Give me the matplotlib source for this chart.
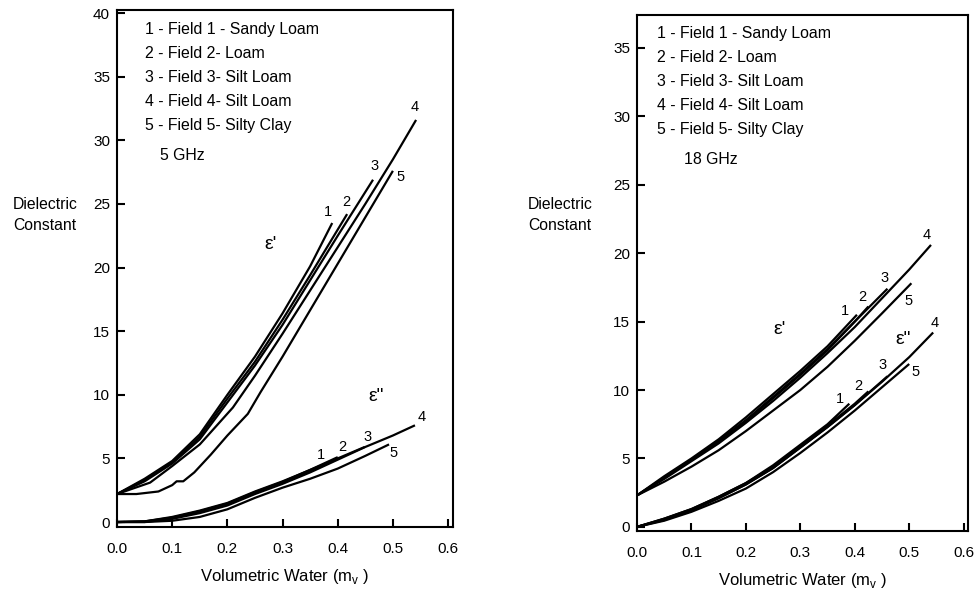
import matplotlib
matplotlib.use("Agg")
import matplotlib.pyplot as plt

plt.rcParams['font.family'] = ['Liberation Sans', 'DejaVu Sans']
plt.rcParams['mathtext.fontset'] = 'custom'
plt.rcParams['mathtext.rm'] = 'Liberation Sans'

# legend lines (same for both frequencies)
soils = ["1 - Field 1 - Sandy Loam", "2 - Field 2- Loam", "3 - Field 3- Silt Loam",
         "4 - Field 4- Silt Loam", "5 - Field 5- Silty Clay"]
curve_ids = ["1", "2", "3", "4", "5"]

# ---- 5 GHz, real part e'
e5r_x1 = [0.0, 0.05, 0.10, 0.15, 0.20, 0.25, 0.30, 0.35, 0.39]
e5r_y1 = [2.2, 3.4, 4.8, 6.9, 10.0, 13.0, 16.4, 20.1, 23.5]
e5r_x2 = [0.0, 0.05, 0.10, 0.15, 0.20, 0.25, 0.30, 0.35, 0.417]
e5r_y2 = [2.2, 3.3, 4.7, 6.7, 9.7, 12.6, 15.9, 19.4, 24.2]
e5r_x3 = [0.0, 0.05, 0.10, 0.15, 0.20, 0.25, 0.30, 0.35, 0.40, 0.464]
e5r_y3 = [2.2, 3.2, 4.6, 6.5, 9.4, 12.3, 15.5, 19.0, 22.5, 26.9]
e5r_x4 = [0.0, 0.06, 0.10, 0.15, 0.21, 0.25, 0.30, 0.35, 0.40, 0.45, 0.50, 0.542]
e5r_y4 = [2.2, 3.1, 4.4, 6.1, 9.0, 11.5, 14.8, 18.2, 21.6, 25.0, 28.5, 31.6]
e5r_x5 = [0.0, 0.035, 0.075, 0.10, 0.108, 0.12, 0.14, 0.17, 0.20, 0.237, 0.26, 0.30, 0.326, 0.40, 0.50]
e5r_y5 = [2.2, 2.2, 2.4, 2.9, 3.2, 3.2, 3.9, 5.3, 6.8, 8.5, 10.2, 13.0, 14.9, 20.3, 27.6]

# ---- 5 GHz, imaginary part e''
e5i_x1 = [0.0, 0.05, 0.10, 0.15, 0.20, 0.25, 0.30, 0.373]
e5i_y1 = [0.0, 0.05, 0.4, 0.9, 1.5, 2.4, 3.2, 4.5]
e5i_x2 = [0.0, 0.05, 0.10, 0.15, 0.20, 0.25, 0.30, 0.35, 0.40]
e5i_y2 = [0.0, 0.05, 0.35, 0.85, 1.45, 2.35, 3.15, 4.1, 5.1]
e5i_x3 = [0.0, 0.05, 0.10, 0.15, 0.20, 0.25, 0.30, 0.35, 0.40, 0.449]
e5i_y3 = [0.0, 0.03, 0.3, 0.8, 1.4, 2.3, 3.1, 4.0, 5.0, 5.9]
e5i_x4 = [0.0, 0.05, 0.10, 0.15, 0.20, 0.25, 0.30, 0.35, 0.40, 0.45, 0.50, 0.54]
e5i_y4 = [0.0, 0.0, 0.25, 0.7, 1.3, 2.2, 3.0, 3.9, 4.9, 5.9, 6.8, 7.6]
e5i_x5 = [0.0, 0.05, 0.10, 0.15, 0.20, 0.25, 0.30, 0.35, 0.40, 0.45, 0.493]
e5i_y5 = [0.0, 0.0, 0.1, 0.4, 1.0, 1.9, 2.7, 3.4, 4.2, 5.2, 6.1]

# ---- 18 GHz, real part e'
e18r_x1 = [0.0, 0.05, 0.10, 0.15, 0.20, 0.25, 0.30, 0.35, 0.404]
e18r_y1 = [2.3, 3.7, 5.0, 6.4, 8.0, 9.7, 11.4, 13.2, 15.5]
e18r_x2 = [0.0, 0.05, 0.10, 0.15, 0.20, 0.25, 0.30, 0.35, 0.40, 0.425]
e18r_y2 = [2.3, 3.6, 4.9, 6.3, 7.8, 9.5, 11.2, 13.0, 15.0, 16.1]
e18r_x3 = [0.0, 0.05, 0.10, 0.15, 0.20, 0.25, 0.30, 0.35, 0.40, 0.46]
e18r_y3 = [2.3, 3.6, 4.9, 6.2, 7.7, 9.4, 11.1, 12.9, 15.0, 17.4]
e18r_x4 = [0.0, 0.05, 0.10, 0.15, 0.20, 0.25, 0.30, 0.35, 0.40, 0.45, 0.50, 0.54]
e18r_y4 = [2.3, 3.5, 4.8, 6.1, 7.6, 9.2, 10.9, 12.7, 14.6, 16.7, 18.8, 20.6]
e18r_x5 = [0.0, 0.05, 0.10, 0.15, 0.20, 0.25, 0.30, 0.35, 0.40, 0.45, 0.504]
e18r_y5 = [2.3, 3.3, 4.4, 5.6, 7.0, 8.5, 10.0, 11.7, 13.6, 15.6, 17.8]

# ---- 18 GHz, imaginary part e''
e18i_x1 = [0.0, 0.05, 0.10, 0.15, 0.20, 0.25, 0.30, 0.35, 0.39]
e18i_y1 = [0.0, 0.6, 1.3, 2.2, 3.2, 4.5, 6.0, 7.5, 9.0]
e18i_x2 = [0.0, 0.05, 0.10, 0.15, 0.20, 0.25, 0.30, 0.35, 0.40, 0.425]
e18i_y2 = [0.0, 0.6, 1.3, 2.2, 3.2, 4.4, 5.9, 7.4, 9.0, 9.9]
e18i_x3 = [0.0, 0.05, 0.10, 0.15, 0.20, 0.25, 0.30, 0.35, 0.40, 0.46]
e18i_y3 = [0.0, 0.55, 1.25, 2.1, 3.1, 4.3, 5.8, 7.3, 8.9, 11.0]
e18i_x4 = [0.0, 0.05, 0.10, 0.15, 0.20, 0.25, 0.30, 0.35, 0.40, 0.45, 0.50, 0.544]
e18i_y4 = [0.0, 0.5, 1.2, 2.1, 3.1, 4.3, 5.8, 7.3, 8.9, 10.6, 12.4, 14.2]
e18i_x5 = [0.0, 0.05, 0.10, 0.15, 0.20, 0.25, 0.30, 0.35, 0.40, 0.45, 0.50]
e18i_y5 = [0.0, 0.45, 1.1, 1.9, 2.8, 4.0, 5.4, 6.9, 8.5, 10.2, 11.9]

# label offsets (pixels) from the end of each curve
off5r = [(-4, 11), (-1, 12), (1, 14), (-1, 13), (8, -6)]
off5i = [(-2, 10), (5, 10), (3, 10), (7, 8), (4, -9)]
off18r = [(-12, 4), (-6, 10), (-3, 11), (-4, 10), (-3, -18)]
off18i = [(-9, 5), (-10, 5), (-5, 11), (2, 10), (6, -8)]

fig = plt.figure(figsize=(9.77, 5.95), dpi=100)
ax1 = fig.add_axes([0.1198, 0.1143, 0.3439, 0.8689])
ax2 = fig.add_axes([0.6520, 0.1076, 0.3388, 0.8672])


def draw_set(ax, xs, ys, offs):
    for x, y, off, cid in zip(xs, ys, offs, curve_ids):
        ax.plot(x, y, color="black", lw=1.6, solid_capstyle="butt")
        ax.annotate(cid, xy=(x[-1], y[-1]), xytext=off, textcoords="offset pixels",
                    ha="center", va="center", fontsize=10.5)


draw_set(ax1, [e5r_x1, e5r_x2, e5r_x3, e5r_x4, e5r_x5],
         [e5r_y1, e5r_y2, e5r_y3, e5r_y4, e5r_y5], off5r)
draw_set(ax1, [e5i_x1, e5i_x2, e5i_x3, e5i_x4, e5i_x5],
         [e5i_y1, e5i_y2, e5i_y3, e5i_y4, e5i_y5], off5i)
draw_set(ax2, [e18r_x1, e18r_x2, e18r_x3, e18r_x4, e18r_x5],
         [e18r_y1, e18r_y2, e18r_y3, e18r_y4, e18r_y5], off18r)
draw_set(ax2, [e18i_x1, e18i_x2, e18i_x3, e18i_x4, e18i_x5],
         [e18i_y1, e18i_y2, e18i_y3, e18i_y4, e18i_y5], off18i)

ax1.set_xlim(0, 0.609)
ax1.set_ylim(-0.39, 40.24)
ax1.set_yticks(range(0, 41, 5))
ax2.set_xlim(0, 0.608)
ax2.set_ylim(-0.3, 37.4)
ax2.set_yticks(range(0, 36, 5))

for ax, ghz, ystart in [(ax1, "5 GHz", 0.963), (ax2, "18 GHz", 0.965)]:
    ax.set_xticks([0.0, 0.1, 0.2, 0.3, 0.4, 0.5, 0.6])
    ax.set_xticklabels(["0.0", "0.1", "0.2", "0.3", "0.4", "0.5", "0.6"])
    ax.tick_params(direction="in", length=6, width=1.5, labelsize=11)
    ax.tick_params(axis="x", pad=11)
    ax.tick_params(axis="y", pad=5)
    for s in ax.spines.values():
        s.set_linewidth(1.5)
    ax.set_xlabel("Volumetric Water (m$_\\mathregular{v}$ )", fontsize=12, labelpad=8)
    xl = 0.083 if ax is ax1 else 0.060
    for i, t in enumerate(soils):
        ax.text(xl, ystart - i * 0.0465, t, transform=ax.transAxes,
                ha="left", va="center", fontsize=11.4)
    ax.text(0.128 if ax is ax1 else 0.142, 0.719, ghz, transform=ax.transAxes,
            ha="left", va="center", fontsize=11.4)

# part labels
ax1.text(0.278, 21.8, "ε'", fontsize=14, ha="center", va="center")
ax1.text(0.47, 9.9, 'ε"', fontsize=14, ha="center", va="center")
ax2.text(0.262, 14.4, "ε'", fontsize=14, ha="center", va="center")
ax2.text(0.488, 13.7, 'ε"', fontsize=14, ha="center", va="center")

fig.text(0.0133, 0.6387, "Dielectric\nConstant", ha="left", va="center",
         fontsize=11.3, linespacing=1.5)
fig.text(0.5404, 0.6387, "Dielectric\nConstant", ha="left", va="center",
         fontsize=11.3, linespacing=1.5)

fig.savefig("out.png", dpi=100)
